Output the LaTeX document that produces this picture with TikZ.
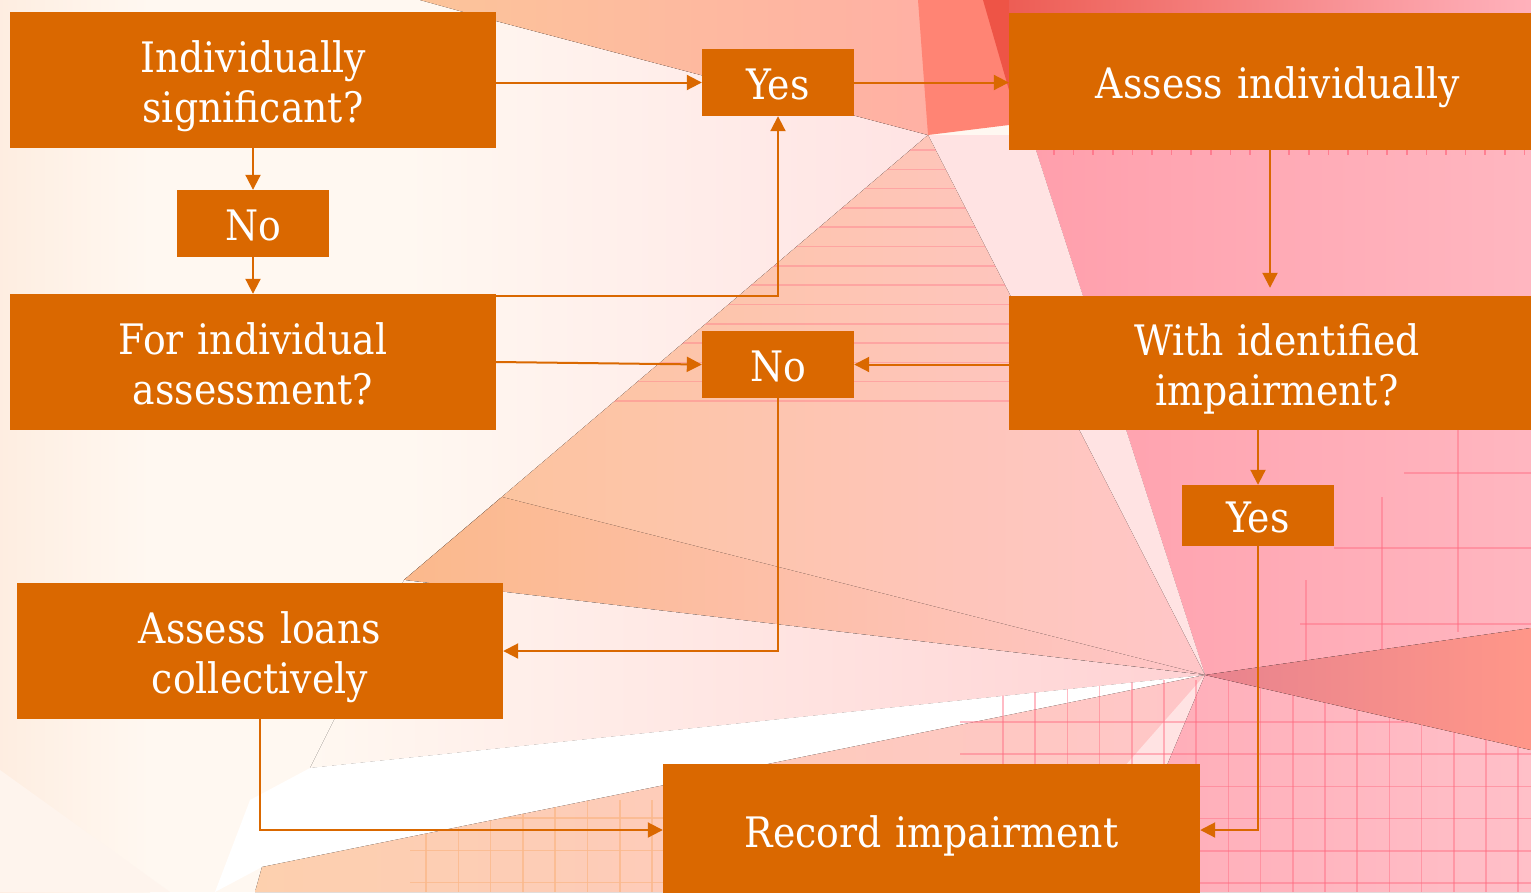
\documentclass[tikz,border=0pt]{standalone}
\usepackage{fontspec}
\newfontfamily\letra[FakeStretch=0.9]{DejaVu Serif}
\usetikzlibrary{arrows.meta}
\definecolor{naranja}{HTML}{DA6800}
\definecolor{crema}{HTML}{FFF8F1}
\definecolor{durazno}{HTML}{FCC49A}
\definecolor{duraznoosc}{HTML}{FBB98C}
\definecolor{salmon}{HTML}{FF8474}
\definecolor{rojo}{HTML}{EE5446}
\definecolor{rosa}{HTML}{FF9EAB}
\definecolor{rosapal}{HTML}{FFC6C8}
\definecolor{rosaclaro}{HTML}{FFE3E3}
\definecolor{malva}{HTML}{E8838E}
\definecolor{rejilla}{HTML}{FF6A80}

\begin{document}
\begin{tikzpicture}[x=1pt, y=-1pt,
  caja/.style={fill=naranja, text=white, align=center, inner sep=0pt,
    minimum width=#1, text width=#1,
    font=\letra\fontsize{42}{50}\selectfont,
    execute at begin node={\rule{0pt}{46pt}},
    execute at end node={\rule[-12pt]{0pt}{0pt}}},
  fl/.style={-{Triangle[length=15pt,width=15pt]}, line width=2pt, color=naranja},
  linea/.style={line width=1.6pt, color=rejilla, opacity=0.45}]
  \useasboundingbox (0,0) rectangle (1531,892);
  \clip (0,0) rectangle (1531,892);

  \fill[crema] (0,0) rectangle (1531,892);
  \fill[left color=durazno!30, right color=crema] (0,0) rectangle (150,892);
  \fill[durazno!18] (0,770) -- (170,892) -- (0,892) -- cycle;
  \fill[left color=crema, right color=rosaclaro] (404,21) -- (496,21) -- (928,135) -- (404,580) -- cycle;
  \fill[left color=durazno, right color=salmon!65] (420,0) -- (960,0) -- (928,135) -- (496,21) -- cycle;
  \fill[salmon] (918,0) -- (1009,0) -- (1009,125) -- (928,135) -- cycle;
  \fill[rojo] (983,0) -- (1060,0) -- (1009,90) -- cycle;
  \fill[left color=rojo!80!malva, right color=rosa!80] (1009,0) rectangle (1531,14);
  \fill[left color=rosa, right color=rosa!75] (1009,14) -- (1531,14) -- (1531,628) -- (1205,675) -- (1031,135) -- cycle;
  \fill[rosaclaro] (928,135) -- (1031,135) -- (1205,675) -- cycle;
  \fill[left color=durazno, right color=rosapal] (928,135) -- (1205,675) -- (404,580) -- cycle;
  \fill[left color=duraznoosc, right color=rosapal] (502,497) -- (1205,675) -- (404,580) -- cycle;
  \begin{scope}
    \clip (928,135) -- (1205,675) -- (404,580) -- cycle;
    \foreach \k in {0,...,13}
      \draw[linea, opacity=0.35] (400,150+19.3*\k) -- (1210,150+19.3*\k);
  \end{scope}
  \fill[left color=crema, right color=rosapal!80] (404,580) -- (1205,675) -- (310,768) -- cycle;
  \fill[white] (310,768) -- (1205,675) -- (262,867) -- (215,892) -- (250,800) -- cycle;
  \fill[left color=durazno!80, right color=rosapal] (262,867) -- (1205,675) -- (1100,892) -- (255,892) -- cycle;
  \fill[rosaclaro] (1205,675) -- (1095,800) -- (1160,800) -- cycle;
  \fill[left color=rosa!85, right color=rosa!65] (1205,675) -- (1531,750) -- (1531,892) -- (1125,892) -- (1165,770) -- cycle;
  \fill[left color=malva, right color=salmon!85] (1205,675) -- (1531,628) -- (1531,750) -- cycle;

  \begin{scope}
    \clip (1205,675) -- (1531,750) -- (1531,892) -- (960,892) -- (960,700) -- cycle;
    \foreach \i in {0,...,17}
      \draw[linea] (1003+32.2*\i,680) -- (1003+32.2*\i,892);
    \foreach \j in {0,...,5}
      \draw[linea] (960,722+32.2*\j) -- (1531,722+32.2*\j);
  \end{scope}
  \begin{scope}
    \clip (262,867) -- (1205,675) -- (1100,892) -- (255,892) -- cycle;
    \foreach \i in {0,...,7}
      \draw[linea, color=duraznoosc, opacity=0.8] (426+32.3*\i,800) -- (426+32.3*\i,892);
    \foreach \j in {0,...,2}
      \draw[linea, color=duraznoosc, opacity=0.8] (410,818+32.3*\j) -- (663,818+32.3*\j);
  \end{scope}
  \draw[linea] (1306,580) -- (1306,660);
  \draw[linea] (1382,497) -- (1382,650);
  \draw[linea] (1458,430) -- (1458,632);
  \draw[linea] (1404,473) -- (1531,473);
  \draw[linea] (1334,548) -- (1531,548);
  \draw[linea] (1300,624) -- (1531,624);
  \foreach \i in {0,...,24}
    \draw[linea, opacity=0.7] (1054+19.6*\i,150) -- (1054+19.6*\i,155);

  \node[caja=486pt, minimum height=136pt] (isig) at (253,80) {Individually\\significant?};
  \node[caja=152pt, minimum height=67pt] (no1) at (253,223.5) {No};
  \node[caja=486pt, minimum height=136pt] (fia) at (253,362) {For individual\\assessment?};
  \node[caja=152pt, minimum height=67pt] (yes1) at (778,82.5) {Yes};
  \node[caja=538pt, minimum height=137pt] (ai) at (1278,81.5) {Assess individually};
  \node[caja=152pt, minimum height=67pt] (no2) at (778,364.5) {No};
  \node[caja=536pt, minimum height=134pt] (wii) at (1277,363) {With identified\\impairment?};
  \node[caja=152pt, minimum height=61pt] (yes2) at (1258,515.5) {Yes};
  \node[caja=486pt, minimum height=136pt] (alc) at (260,651) {Assess loans\\collectively};
  \node[caja=537pt, minimum height=132pt] (ri) at (931.5,830) {Record impairment};

  \draw[fl] (isig.east |- yes1.west) -- (yes1.west);
  \draw[fl] (yes1.east) -- (yes1.east -| ai.west);
  \draw[fl] ([yshift=2pt]isig.south) -- (no1.north);
  \draw[fl] (no1.south) -- (fia.north);
  \draw[fl] ([yshift=-2pt]fia.north east) -| (yes1.south);
  \draw[fl] (fia.east) -- (no2.west);
  \draw[fl] (no2.east -| wii.west) -- (no2.east);
  \draw[fl, shorten >=8pt] ([xshift=-8pt, yshift=2pt]ai.south) -- ([xshift=-8pt]ai.south |- wii.north);
  \draw[fl] (wii.south -| yes2.north) -- (yes2.north);
  \draw[fl] (yes2.south) |- (ri.east);
  \draw[fl] (no2.south) |- (alc.east);
  \draw[fl] (alc.south) |- (ri.west);
\end{tikzpicture}
\end{document}
